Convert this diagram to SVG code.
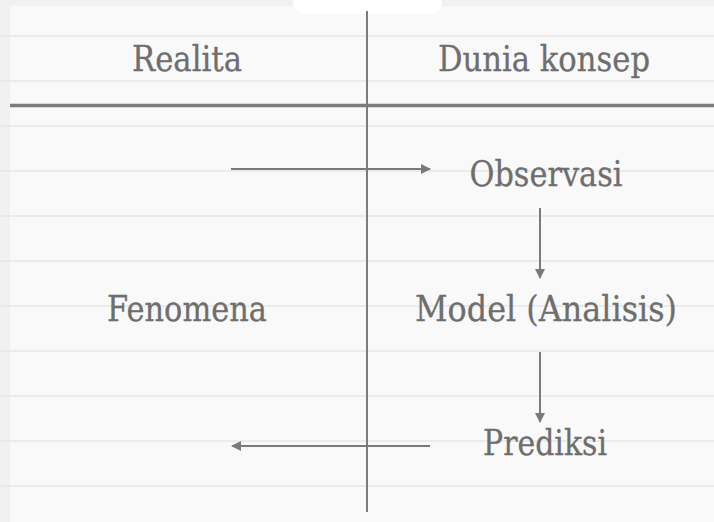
<svg xmlns="http://www.w3.org/2000/svg" width="714" height="522" viewBox="0 0 714 522">
  <defs>
    <style>
      .rule { stroke: #e6e6e6; stroke-width: 1.5; }
      .label { font-family: "DejaVu Serif", "Liberation Serif", serif; font-size: 36px; fill: #6e6e6e; stroke: #6e6e6e; stroke-width: 0.3; text-anchor: middle; }
      .axis { stroke: #7c7c7c; fill: none; }
      .conn { stroke: #7a7a7a; stroke-width: 2; fill: none; marker-end: url(#ah); }
    </style>
    <marker id="ah" viewBox="0 0 10 10" refX="9" refY="5" markerWidth="6" markerHeight="5" markerUnits="strokeWidth" orient="auto">
      <path d="M0,0 L10,5 L0,10 z" fill="#7a7a7a"/>
    </marker>
  </defs>
  <rect x="0" y="0" width="714" height="522" fill="#f1f1f1"/>
  <rect x="10" y="6" width="704" height="516" fill="#f9f9f9"/>
  <rect x="293" y="-20" width="149" height="34" rx="12" fill="#ffffff"/>
  <g id="rules">
    <line class="rule" x1="0" y1="36" x2="714" y2="36"/>
    <line class="rule" x1="0" y1="81" x2="714" y2="81"/>
    <line class="rule" x1="0" y1="126" x2="714" y2="126"/>
    <line class="rule" x1="0" y1="171" x2="714" y2="171"/>
    <line class="rule" x1="0" y1="216" x2="714" y2="216"/>
    <line class="rule" x1="0" y1="261" x2="714" y2="261"/>
    <line class="rule" x1="0" y1="306" x2="714" y2="306"/>
    <line class="rule" x1="0" y1="351" x2="714" y2="351"/>
    <line class="rule" x1="0" y1="396" x2="714" y2="396"/>
    <line class="rule" x1="0" y1="441" x2="714" y2="441"/>
    <line class="rule" x1="0" y1="486" x2="714" y2="486"/>
  </g>
  <g id="axes">
    <line class="axis" x1="10" y1="105.5" x2="714" y2="105.5" stroke-width="3.5"/>
    <line class="axis" x1="367" y1="11" x2="367" y2="512" stroke-width="2"/>
  </g>
  <g id="header-realita"><text class="label" x="187" y="71" textLength="110" lengthAdjust="spacingAndGlyphs">Realita</text></g>
  <g id="header-dunia-konsep"><text class="label" x="544" y="71" textLength="212" lengthAdjust="spacingAndGlyphs">Dunia konsep</text></g>
  <g id="node-observasi"><text class="label" x="546" y="186" textLength="153" lengthAdjust="spacingAndGlyphs">Observasi</text></g>
  <g id="node-fenomena"><text class="label" x="187" y="321" textLength="160" lengthAdjust="spacingAndGlyphs">Fenomena</text></g>
  <g id="node-model"><text class="label" x="546" y="321" textLength="262" lengthAdjust="spacingAndGlyphs">Model (Analisis)</text></g>
  <g id="node-prediksi"><text class="label" x="545" y="455" textLength="124" lengthAdjust="spacingAndGlyphs">Prediksi</text></g>
  <g id="connectors">
    <line class="conn" x1="231" y1="169" x2="430" y2="169"/>
    <line class="conn" x1="540" y1="208" x2="540" y2="278"/>
    <line class="conn" x1="540" y1="352" x2="540" y2="422"/>
    <line class="conn" x1="430" y1="446" x2="232" y2="446"/>
  </g>
</svg>
